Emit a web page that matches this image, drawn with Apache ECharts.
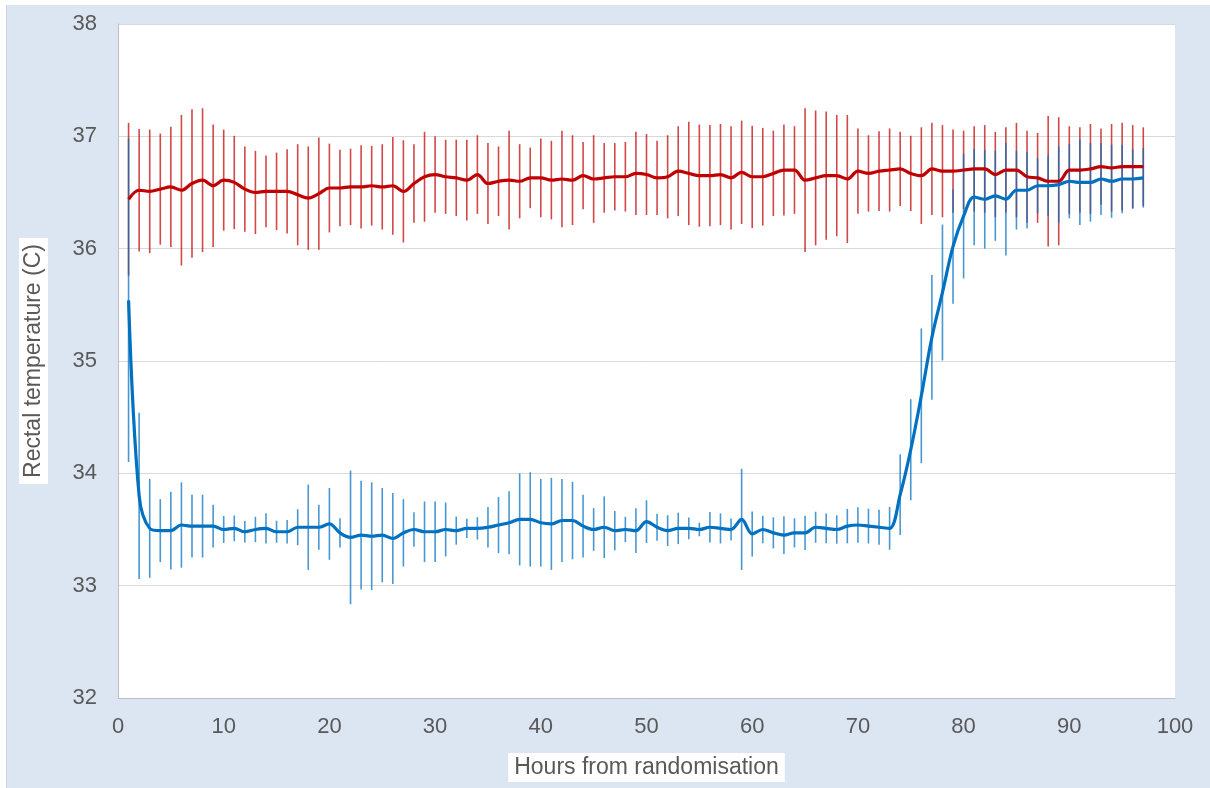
<!DOCTYPE html>
<html>
<head>
<meta charset="utf-8">
<script src="https://cdn.jsdelivr.net/npm/echarts@6/dist/echarts.min.js"></script>
<style>
html,body{margin:0;padding:0;background:#fff;width:1210px;height:788px;overflow:hidden;}
#bg{position:absolute;left:6px;top:5px;width:1204px;height:783px;background:#dce6f2;border-left:1px solid #d0d6de;}
#chart{position:absolute;left:0;top:0;width:1210px;height:788px;}
</style>
</head>
<body>
<div id="bg"></div>
<div id="chart"></div>
<script>
const hours = [1,2,3,4,5,6,7,8,9,10,11,12,13,14,15,16,17,18,19,20,21,22,23,24,25,26,27,28,29,30,31,32,33,34,35,36,37,38,39,40,41,42,43,44,45,46,47,48,49,50,51,52,53,54,55,56,57,58,59,60,61,62,63,64,65,66,67,68,69,70,71,72,73,74,75,76,77,78,79,80,81,82,83,84,85,86,87,88,89,90,91,92,93,94,95,96,97];

const redMean = [36.44,36.52,36.51,36.53,36.55,36.52,36.58,36.61,36.56,36.61,36.59,36.53,36.50,36.51,36.51,36.51,36.48,36.45,36.49,36.54,36.54,36.55,36.55,36.56,36.55,36.56,36.51,36.58,36.64,36.66,36.64,36.63,36.61,36.66,36.58,36.60,36.61,36.60,36.63,36.63,36.61,36.62,36.61,36.65,36.62,36.63,36.64,36.64,36.67,36.66,36.63,36.64,36.69,36.67,36.65,36.65,36.66,36.63,36.68,36.64,36.64,36.67,36.70,36.70,36.61,36.63,36.65,36.65,36.62,36.69,36.67,36.69,36.70,36.71,36.67,36.65,36.71,36.69,36.69,36.70,36.71,36.71,36.66,36.70,36.70,36.64,36.63,36.60,36.60,36.70,36.70,36.71,36.73,36.72,36.73,36.73,36.73];

const redErr = [0.68,0.545,0.55,0.495,0.535,0.67,0.66,0.64,0.545,0.45,0.415,0.38,0.37,0.32,0.345,0.375,0.45,0.46,0.5,0.395,0.34,0.34,0.37,0.355,0.38,0.435,0.455,0.35,0.4,0.34,0.33,0.34,0.36,0.35,0.36,0.31,0.44,0.33,0.27,0.35,0.35,0.43,0.40,0.30,0.39,0.31,0.30,0.31,0.37,0.36,0.33,0.37,0.40,0.46,0.455,0.45,0.45,0.46,0.46,0.455,0.435,0.38,0.405,0.39,0.64,0.60,0.57,0.54,0.57,0.38,0.34,0.355,0.37,0.33,0.335,0.43,0.41,0.41,0.37,0.35,0.38,0.39,0.38,0.38,0.42,0.41,0.40,0.58,0.57,0.39,0.38,0.40,0.34,0.39,0.39,0.37,0.35];

const blueMean = [35.54,33.80,33.51,33.49,33.49,33.54,33.53,33.53,33.53,33.50,33.51,33.48,33.50,33.51,33.48,33.48,33.52,33.52,33.52,33.55,33.47,33.43,33.45,33.44,33.45,33.42,33.47,33.50,33.48,33.48,33.50,33.49,33.51,33.51,33.52,33.54,33.56,33.59,33.59,33.56,33.55,33.58,33.58,33.53,33.50,33.52,33.49,33.50,33.49,33.57,33.52,33.49,33.51,33.51,33.50,33.52,33.51,33.50,33.59,33.46,33.50,33.47,33.45,33.47,33.47,33.52,33.51,33.50,33.53,33.54,33.53,33.52,33.51,33.81,34.21,34.69,35.21,35.61,36.02,36.29,36.46,36.44,36.47,36.44,36.52,36.52,36.56,36.56,36.57,36.60,36.59,36.59,36.62,36.60,36.62,36.62,36.63];

const blueErr = [1.44,0.74,0.44,0.28,0.345,0.38,0.28,0.28,0.19,0.12,0.115,0.095,0.113,0.135,0.098,0.104,0.16,0.38,0.2,0.32,0.13,0.595,0.485,0.48,0.42,0.405,0.3,0.153,0.27,0.27,0.24,0.125,0.085,0.1,0.18,0.25,0.28,0.41,0.42,0.39,0.41,0.37,0.345,0.28,0.19,0.275,0.175,0.113,0.2,0.19,0.12,0.137,0.14,0.097,0.06,0.135,0.134,0.098,0.45,0.2,0.123,0.138,0.168,0.13,0.153,0.138,0.132,0.126,0.153,0.158,0.155,0.155,0.19,0.36,0.45,0.6,0.555,0.605,0.51,0.555,0.43,0.44,0.40,0.5,0.35,0.34,0.245,0.27,0.34,0.33,0.38,0.35,0.32,0.325,0.305,0.265,0.265];

const yTicks = [32,33,34,35,36,37,38];
const xTicks = [0,10,20,30,40,50,60,70,80,90,100];

const RED = '#C00000';
const BLUE = '#0070C0';

function lineData(mean){ return hours.map((h,i)=>[h, mean[i]]); }
function errData(mean, err){ return hours.map((h,i)=>[h, mean[i]-err[i], mean[i]+err[i]]); }

function errSeries(mean, err, color){
  return {
    type:'custom',
    silent:true,
    data: errData(mean, err),
    encode:{x:0, y:[1,2]},
    renderItem: function(params, api){
      const lo = api.coord([api.value(0), api.value(1)]);
      const hi = api.coord([api.value(0), api.value(2)]);
      return {
        type:'line',
        shape:{x1:lo[0], y1:lo[1], x2:hi[0], y2:hi[1]},
        style:{stroke:color, lineWidth:1.6, opacity:0.72}
      };
    },
    z:2
  };
}

const chart = echarts.init(document.getElementById('chart'), null, {renderer:'canvas'});
const FONT = 'Liberation Sans, Arial, sans-serif';
const labelFont = {color:'#595959', fontSize:22, fontFamily:FONT};

chart.setOption({
  animation:false,
  backgroundColor:'transparent',
  grid:{left:118, right:35, top:24, bottom:90, show:true, backgroundColor:'#ffffff', borderWidth:0},
  xAxis:{
    type:'value', min:0, max:100, interval:10,
    axisLine:{show:true, lineStyle:{color:'#bfbfbf', width:1}},
    axisTick:{show:false},
    splitLine:{show:false},
    axisLabel:Object.assign({margin:18, formatter:v=>xTicks.includes(v)?String(v):''}, labelFont),
    name:'Hours from randomisation',
    nameLocation:'middle',
    nameGap:55,
    nameTextStyle:{color:'#595959', fontSize:23, fontFamily:FONT, backgroundColor:'#ffffff', padding:[3,6,3,6]}
  },
  yAxis:{
    type:'value', min:32, max:38, interval:1,
    axisLine:{show:true, lineStyle:{color:'#bfbfbf', width:1}},
    axisTick:{show:false},
    splitLine:{show:true, lineStyle:{color:'#d9d9d9', width:1}},
    axisLabel:Object.assign({margin:21, formatter:v=>yTicks.includes(v)?String(v):''}, labelFont),
    name:'Rectal temperature (C)',
    nameLocation:'middle',
    nameGap:70,
    nameRotate:90,
    nameTextStyle:{color:'#595959', fontSize:23, fontFamily:FONT, backgroundColor:'#ffffff', padding:[3,6,3,6]}
  },
  series:[
    errSeries(redMean, redErr, RED),
    errSeries(blueMean, blueErr, BLUE),
    {type:'line', data:lineData(redMean), smooth:0.35, showSymbol:false, symbol:'none',
     lineStyle:{color:RED, width:3.2}, itemStyle:{color:RED}, z:3},
    {type:'line', data:lineData(blueMean), smooth:0.35, showSymbol:false, symbol:'none',
     lineStyle:{color:BLUE, width:3.2}, itemStyle:{color:BLUE}, z:4}
  ]
});
</script>
</body>
</html>
